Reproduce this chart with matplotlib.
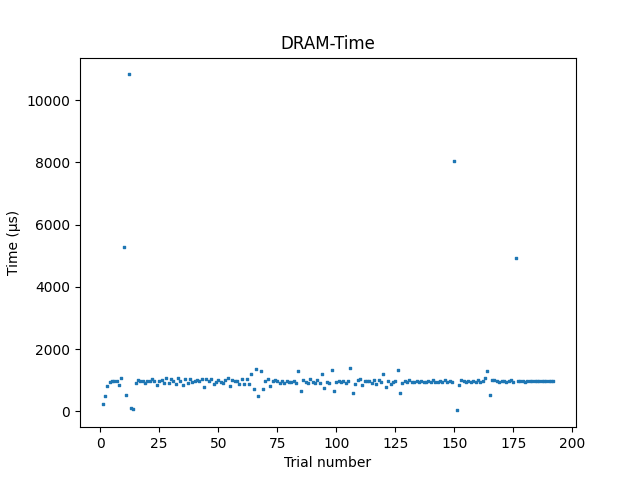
import numpy as np
import matplotlib
matplotlib.use("Agg")
import matplotlib.pyplot as plt

# DRAM access time per trial (microseconds)
times_us = [
    250, 505, 826, 950, 987, 987, 987, 858, 1083, 5296,
    537, 10826, 119, 87, 923, 1019, 987, 987, 923, 960,
    987, 1030, 987, 858, 975, 1000, 910, 1083, 923, 1040,
    987, 890, 1083, 975, 858, 1030, 923, 1040, 945, 975,
    1019, 987, 1030, 795, 1040, 987, 1050, 890, 945, 1019,
    955, 923, 1019, 1083, 815, 1019, 960, 987, 890, 1040,
    890, 1040, 890, 1190, 730, 1370, 505, 1280, 730, 987,
    1030, 825, 987, 1019, 987, 923, 987, 923, 987, 955,
    955, 987, 923, 1310, 640, 1019, 955, 923, 1040, 955,
    923, 1019, 923, 1190, 765, 955, 923, 1340, 640, 955,
    987, 955, 987, 923, 987, 1400, 575, 890, 1019, 1040,
    858, 987, 987, 987, 923, 1019, 890, 1019, 955, 1190,
    795, 987, 890, 955, 987, 1340, 605, 923, 987, 955,
    1019, 955, 955, 987, 955, 987, 955, 955, 987, 955,
    1000, 955, 940, 987, 955, 1000, 955, 987, 955, 8030,
    30, 836, 1019, 987, 955, 987, 955, 987, 955, 1000,
    955, 987, 1083, 1286, 536, 997, 1010, 960, 955, 987,
    980, 955, 987, 1000, 955, 4940, 970, 987, 987, 955,
    960, 987, 987, 987, 960, 987, 987, 980, 987, 960,
    960, 960,
]
trials = np.arange(1, len(times_us) + 1)

fig, ax = plt.subplots(figsize=(6.4, 4.8), dpi=100)
ax.scatter(trials, times_us, s=3, marker="s", color="#1f77b4")
ax.set_title("DRAM-Time")
ax.set_xlabel("Trial number")
ax.set_ylabel("Time (µs)")
ax.set_xticks(np.arange(0, 201, 25))

plt.savefig("out.png", dpi=100)
